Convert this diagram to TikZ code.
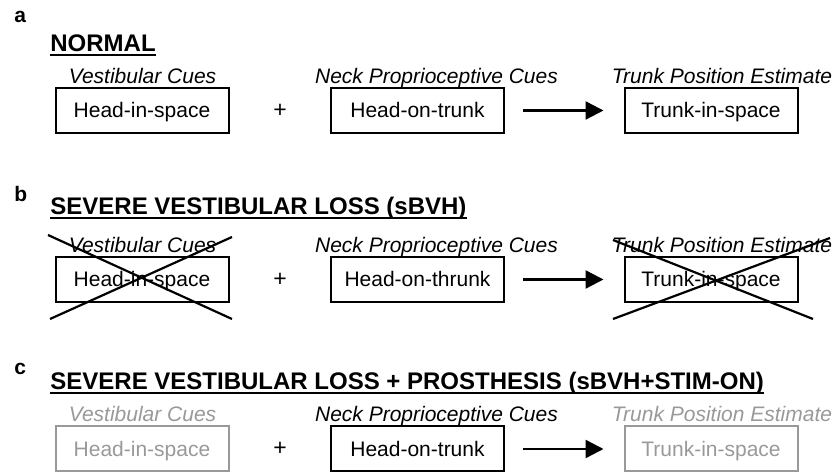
\documentclass[tikz,border=0pt]{standalone}
\usepackage{fontspec}
\setmainfont{Liberation Sans}
\usetikzlibrary{arrows.meta}
\definecolor{lostgray}{rgb}{0.6,0.6,0.6}

\begin{document}
\begin{tikzpicture}[x=0.5pt,y=-0.5pt,
  box/.style={draw,line width=1pt,minimum width=86.5pt,minimum height=22.5pt,inner sep=0pt,text height=8pt,text depth=0.7pt,font=\fontsize{10.5}{12}\selectfont},
  cue/.style={anchor=base,inner sep=0pt,font=\fontsize{10.5}{12}\selectfont\itshape},
  ttl/.style={anchor=base west,inner sep=0pt,font=\fontsize{12}{14}\selectfont\bfseries},
  pnl/.style={anchor=base west,inner sep=0pt,font=\fontsize{10.5}{12}\selectfont\bfseries},
  plus/.style={font=\fontsize{11.5}{12}\selectfont},
  lost/.style={draw=lostgray,text=lostgray},
  cross/.style={line width=1.1pt},
  flow/.style={-{Triangle[length=9pt,width=9pt]},line width=1.2pt,shorten <=9pt,shorten >=10pt}]
\useasboundingbox (0,0) rectangle (840,474);

% a: normal
\node[pnl] (pa) at (14,23) {a};
\node[ttl] (ta) at (50,52) {NORMAL};
\draw[line width=1pt] ([yshift=-1.4pt]ta.base west) -- ([yshift=-1.4pt]ta.base east);
\node[cue] (cva) at (142.5,84) {Vestibular Cues};
\node[cue] (cna) at (436.5,84) {Neck Proprioceptive Cues};
\node[cue] (cra) at (722,84) {Trunk Position Estimate};
\node[box] (va) at (142,110.5) {Head-in-space};
\node[plus] (pla) at (280,111) {+};
\node[box] (na) at (417.5,110.5) {Head-on-trunk};
\node[box] (ra) at (711,110.5) {Trunk-in-space};
\draw[flow] (na) -- (ra);

% b: sBVH
\node[pnl] (pb) at (14,202) {b};
\node[ttl] (tb) at (50,215) {SEVERE VESTIBULAR LOSS (sBVH)};
\draw[line width=1pt] ([yshift=-1.4pt]tb.base west) -- ([yshift=-1.4pt]tb.base east);
\node[cue] (cvb) at (142.5,253) {Vestibular Cues};
\node[cue] (cnb) at (436.5,253) {Neck Proprioceptive Cues};
\node[cue] (crb) at (722,253) {Trunk Position Estimate};
\node[box] (vb) at (142,279.5) {Head-in-space};
\node[plus] (plb) at (280,280) {+};
\node[box] (nb) at (417.5,279.5) {Head-on-thrunk};
\node[box] (rb) at (711,279.5) {Trunk-in-space};
\draw[flow] (nb) -- (rb);
\draw[cross] (48,235) -- (232,319);
\draw[cross] (50,319) -- (232,237);
\draw[cross] (613,240) -- (813,319);
\draw[cross] (613,319) -- (830,238);

% c: sBVH + stim on
\node[pnl] (pc) at (14,375) {c};
\node[ttl] (tc) at (50,390) {SEVERE VESTIBULAR LOSS + PROSTHESIS (sBVH+STIM-ON)};
\draw[line width=1pt] ([yshift=-1.4pt]tc.base west) -- ([yshift=-1.4pt]tc.base east);
\node[cue,text=lostgray] (cvc) at (142.5,422) {Vestibular Cues};
\node[cue] (cnc) at (436.5,422) {Neck Proprioceptive Cues};
\node[cue,text=lostgray] (crc) at (722,422) {Trunk Position Estimate};
\node[box,lost] (vc) at (142,449) {Head-in-space};
\node[plus] (plc) at (280,449) {+};
\node[box] (nc) at (417.5,449) {Head-on-trunk};
\node[box,lost] (rc) at (711,449) {Trunk-in-space};
\draw[flow] (nc) -- (rc);
\end{tikzpicture}
\end{document}
